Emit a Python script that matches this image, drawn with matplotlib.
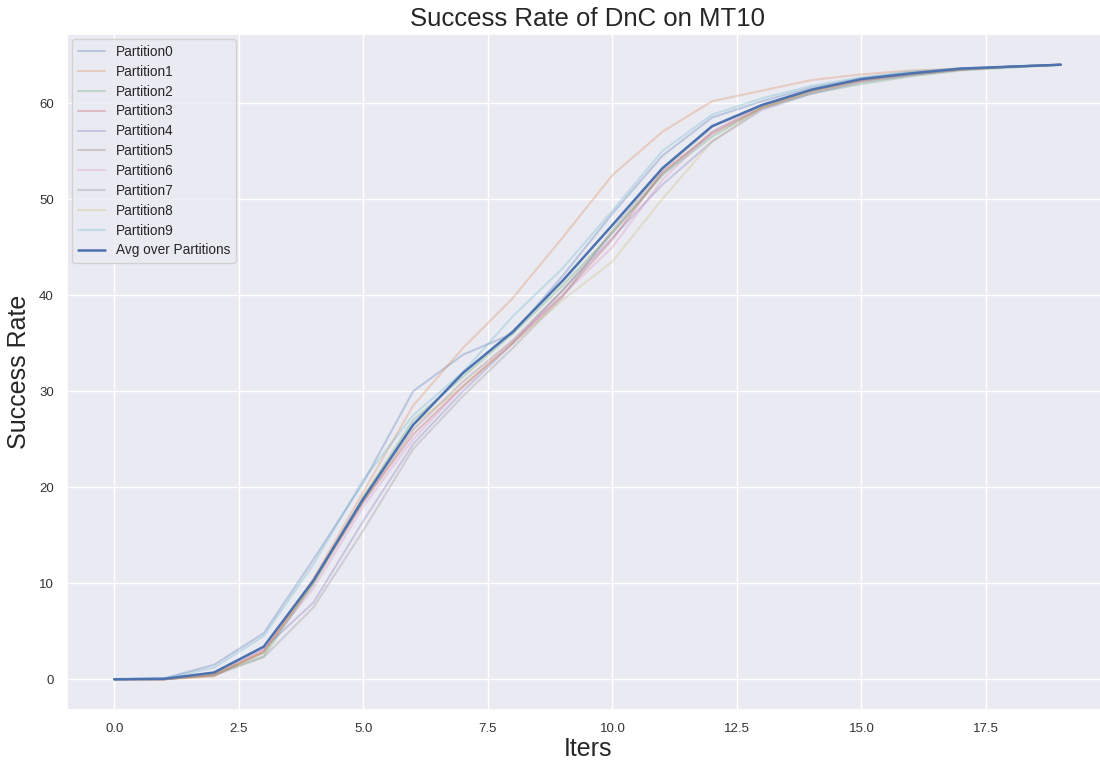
import matplotlib
matplotlib.use("Agg")
import matplotlib.pyplot as plt
import seaborn as sns

iters = list(range(20))
partitions = {
    "Partition0": [0, 0.1, 1.5, 4.8, 12.5, 20.5, 30.0, 33.8, 36.0, 42.0, 48.5, 54.5, 58.5, 60.2, 61.6, 62.6, 63.2, 63.6, 63.8, 64.0],
    "Partition1": [0, 0.0, 0.3, 3.0, 10.5, 19.5, 28.5, 34.5, 39.7, 46.0, 52.5, 57.0, 60.2, 61.3, 62.4, 63.0, 63.4, 63.6, 63.8, 64.0],
    "Partition2": [0, 0.0, 0.5, 2.4, 10.0, 19.0, 27.0, 31.5, 36.0, 41.0, 46.5, 52.5, 56.5, 59.5, 61.0, 62.0, 62.8, 63.4, 63.7, 64.0],
    "Partition3": [0, 0.0, 0.4, 2.8, 10.3, 18.5, 25.5, 30.5, 35.0, 40.0, 45.8, 52.8, 56.8, 59.5, 61.2, 62.3, 63.0, 63.5, 63.8, 64.0],
    "Partition4": [0, 0.0, 0.6, 3.2, 8.0, 16.5, 24.5, 30.0, 35.0, 40.5, 46.0, 51.5, 56.0, 59.3, 61.0, 62.2, 62.9, 63.5, 63.8, 64.0],
    "Partition5": [0, 0.0, 0.5, 2.8, 10.0, 18.5, 26.0, 31.0, 35.3, 40.5, 46.5, 52.6, 57.0, 59.6, 61.3, 62.4, 63.0, 63.5, 63.8, 64.0],
    "Partition6": [0, 0.0, 0.6, 3.0, 9.5, 18.0, 25.0, 30.5, 35.2, 40.0, 45.0, 52.0, 57.0, 59.8, 61.4, 62.4, 63.0, 63.5, 63.8, 64.0],
    "Partition7": [0, 0.0, 0.4, 2.3, 7.5, 15.5, 24.0, 29.5, 34.5, 39.8, 46.8, 53.0, 57.5, 59.8, 61.3, 62.4, 63.0, 63.5, 63.8, 64.0],
    "Partition8": [0, 0.0, 0.5, 2.8, 10.2, 19.0, 26.5, 30.5, 35.0, 39.5, 43.5, 50.0, 56.0, 59.5, 61.2, 62.3, 63.0, 63.5, 63.8, 64.0],
    "Partition9": [0, 0.1, 1.2, 4.5, 12.0, 20.8, 27.5, 32.0, 37.8, 42.8, 48.8, 55.0, 58.8, 60.5, 61.8, 62.7, 63.3, 63.6, 63.8, 64.0],
}
avg = [0, 0.05, 0.7, 3.4, 10.3, 18.8, 26.5, 31.9, 36.2, 41.5, 47.3, 53.2, 57.6, 59.8, 61.4, 62.5, 63.1, 63.6, 63.8, 64.0]

sns.set_theme(style="darkgrid")
plt.rcParams['font.family'] = ['Liberation Sans', 'DejaVu Sans']
fig = plt.figure(figsize=(11, 7.61), dpi=100)
ax = fig.add_axes([67/1100, 1 - 710/761, 1041/1100, (710 - 34)/761])
colors = sns.color_palette("deep", 10)
for (name, vals), c in zip(partitions.items(), colors):
    ax.plot(iters, vals, color=c, alpha=0.3, linewidth=1.5, label=name)
ax.plot(iters, avg, color=colors[0], linewidth=1.8, label="Avg over Partitions")

ax.set_title("Success Rate of DnC on MT10", fontsize=18.5, pad=6)
ax.set_xlabel("Iters", fontsize=18, labelpad=1)
ax.set_ylabel("Success Rate", fontsize=18, labelpad=6)
ax.tick_params(labelsize=9.5, colors="#333333")
ax.legend(loc="upper left", fontsize=9.8, borderaxespad=0.4, labelspacing=0.43)
fig.savefig("out.png", dpi=100)
